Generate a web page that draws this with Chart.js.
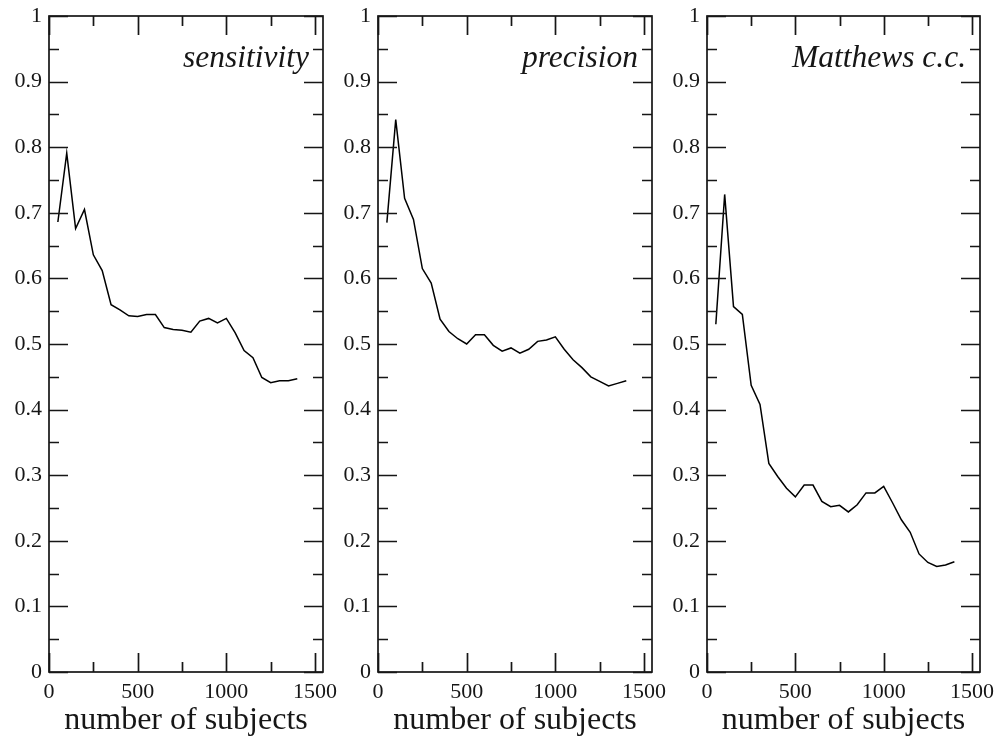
<!DOCTYPE html>
<html>
<head>
<meta charset="utf-8">
<script src="https://cdn.jsdelivr.net/npm/chart.js@4.4.0/dist/chart.umd.min.js"></script>
<style>
  html, body { margin: 0; padding: 0; background: #fff; }
  #wrap { position: relative; width: 998px; height: 736px; overflow: hidden; }
  #wrap canvas { position: absolute; left: 0; top: 0; }
</style>
</head>
<body>
<div id="wrap">
  <canvas id="c1" width="998" height="736"></canvas>
  <canvas id="c2" width="998" height="736"></canvas>
  <canvas id="c3" width="998" height="736"></canvas>
</div>
<script>
// --- data ---
const subjects = [50, 100, 150, 200, 250, 300, 350, 400, 450, 500, 550, 600, 650, 700,
                  750, 800, 850, 900, 950, 1000, 1050, 1100, 1150, 1200, 1250, 1300, 1350, 1400];
const sensitivity = [0.686, 0.791, 0.676, 0.705, 0.636, 0.612, 0.560, 0.552, 0.543, 0.542,
                     0.545, 0.545, 0.525, 0.522, 0.521, 0.518, 0.535, 0.539, 0.532, 0.539,
                     0.517, 0.490, 0.479, 0.449, 0.441, 0.444, 0.444, 0.447];
const precision = [0.685, 0.842, 0.722, 0.690, 0.615, 0.593, 0.538, 0.519, 0.508, 0.500,
                   0.514, 0.514, 0.498, 0.489, 0.494, 0.486, 0.492, 0.504, 0.506, 0.511,
                   0.492, 0.476, 0.464, 0.450, 0.443, 0.436, 0.440, 0.444];
const matthews = [0.530, 0.728, 0.557, 0.545, 0.437, 0.408, 0.318, 0.298, 0.280, 0.267,
                  0.285, 0.285, 0.260, 0.252, 0.254, 0.244, 0.255, 0.273, 0.273, 0.283,
                  0.258, 0.232, 0.213, 0.180, 0.167, 0.161, 0.163, 0.168];
const panelNames = ["sensitivity", "precision", "Matthews c.c."];
const xTickValues = [0, 500, 1000, 1500];
const xMinorTicks = [250, 750, 1250];
const yTickValues = [0, 0.1, 0.2, 0.3, 0.4, 0.5, 0.6, 0.7, 0.8, 0.9, 1];
const yMinorTicks = [0.05, 0.15, 0.25, 0.35, 0.45, 0.55, 0.65, 0.75, 0.85, 0.95];
const xTitle = "number of subjects";

// --- layout ---
const W = 998, H = 736;
const plotLeft = [49, 378, 707];
const plotRight = [323, 652, 980];
const plotTop = 16, plotBottom = 672;
const yAxisW = 45;
const serif = '"Liberation Serif", "Times New Roman", serif';
const ink = "#161616";

// frame, inward ticks on all four sides, and the panel caption
const framePlugin = {
  id: "frame",
  afterDatasetsDraw(chart, args, opts) {
    const { ctx, chartArea: a, scales: { x, y } } = chart;
    ctx.save();
    ctx.strokeStyle = ink;
    ctx.lineWidth = 1.7;
    ctx.strokeRect(a.left, a.top, a.right - a.left, a.bottom - a.top);
    ctx.beginPath();
    const xt = (vals, len) => vals.forEach(v => {
      const px = Math.round(x.getPixelForValue(v)) + 0.5;
      ctx.moveTo(px, a.bottom); ctx.lineTo(px, a.bottom - len);
      ctx.moveTo(px, a.top); ctx.lineTo(px, a.top + len);
    });
    const yt = (vals, len) => vals.forEach(v => {
      const py = Math.round(y.getPixelForValue(v)) + 0.5;
      ctx.moveTo(a.left, py); ctx.lineTo(a.left + len, py);
      ctx.moveTo(a.right, py); ctx.lineTo(a.right - len, py);
    });
    xt(xTickValues, 19); xt(xMinorTicks, 10);
    yt(yTickValues, 19); yt(yMinorTicks, 10);
    ctx.stroke();

    ctx.font = "italic 31.5px " + serif;
    ctx.fillStyle = ink;
    ctx.textAlign = "right";
    ctx.textBaseline = "alphabetic";
    ctx.fillText(opts.text, a.right - 14, a.top + 51);
    ctx.restore();
  }
};

function makePanel(id, idx, values) {
  new Chart(document.getElementById(id), {
    type: "line",
    data: {
      datasets: [{
        data: subjects.map((s, i) => ({ x: s, y: values[i] })),
        borderColor: "#000",
        borderWidth: 1.5,
        pointRadius: 0,
        tension: 0,
        fill: false
      }]
    },
    options: {
      responsive: false,
      animation: false,
      devicePixelRatio: 1,
      layout: {
        padding: { left: plotLeft[idx] - yAxisW, right: W - plotRight[idx], top: plotTop, bottom: 0 }
      },
      plugins: {
        legend: { display: false },
        tooltip: { enabled: false },
        frame: { text: panelNames[idx] }
      },
      scales: {
        x: {
          type: "linear",
          min: 0,
          max: 1545,
          grid: { display: false, drawTicks: false },
          border: { display: false },
          afterBuildTicks: s => { s.ticks = xTickValues.map(v => ({ value: v })); },
          afterFit: s => { s.height = H - plotBottom; s.paddingLeft = 0; s.paddingRight = 0; },
          ticks: {
            autoSkip: false, maxRotation: 0, padding: 7, color: ink,
            font: { family: serif, size: 22 },
            callback: v => String(v)
          },
          title: {
            display: true, text: xTitle, color: ink,
            font: { family: serif, size: 32, lineHeight: 1 },
            padding: { top: 0, bottom: -1 }
          }
        },
        y: {
          min: 0,
          max: 1,
          grid: { display: false, drawTicks: false },
          border: { display: false },
          afterBuildTicks: s => { s.ticks = yTickValues.map(v => ({ value: v })); },
          afterFit: s => { s.width = yAxisW; s.paddingTop = 0; s.paddingBottom = 0; },
          ticks: {
            padding: 7, color: ink,
            font: { family: serif, size: 22 },
            callback: v => String(v)
          }
        }
      }
    },
    plugins: [framePlugin]
  });
}

makePanel("c1", 0, sensitivity);
makePanel("c2", 1, precision);
makePanel("c3", 2, matthews);
</script>
</body>
</html>
